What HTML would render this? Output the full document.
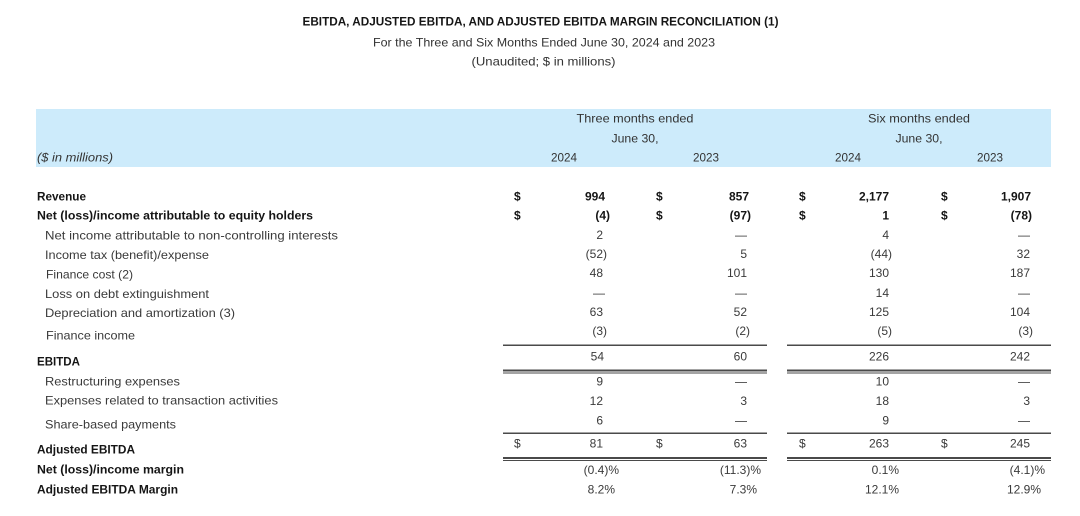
<!DOCTYPE html>
<html><head><meta charset="utf-8">
<style>
html,body{margin:0;padding:0;background:#fff;}
svg{display:block;}
text{font-family:"Liberation Sans",sans-serif;font-size:12px;fill:#2a2a2a;}
.b{font-weight:bold;fill:#151515;}
.n{fill:#3a3a3a;}
.h{fill:#333;}
</style></head><body>
<svg width="1080" height="516" viewBox="0 0 1080 516" xmlns="http://www.w3.org/2000/svg">
<rect x="0" y="0" width="1080" height="516" fill="#fff"/>
<!-- titles -->
<text class="b" x="540.5" y="25.5" text-anchor="middle" textLength="476" lengthAdjust="spacingAndGlyphs">EBITDA, ADJUSTED EBITDA, AND ADJUSTED EBITDA MARGIN RECONCILIATION (1)</text>
<text class="h" x="544" y="46.5" text-anchor="middle" textLength="342" lengthAdjust="spacingAndGlyphs">For the Three and Six Months Ended June 30, 2024 and 2023</text>
<text class="h" x="543.5" y="65.5" text-anchor="middle" textLength="144" lengthAdjust="spacingAndGlyphs">(Unaudited; $ in millions)</text>

<!-- header band -->
<rect x="36" y="109" width="1015" height="58" fill="#cdebfb"/>
<text class="h" x="635" y="122.5" text-anchor="middle" textLength="117" lengthAdjust="spacingAndGlyphs">Three months ended</text>
<text class="h" x="635" y="142.5" text-anchor="middle" textLength="47" lengthAdjust="spacingAndGlyphs">June 30,</text>
<text class="h" x="564" y="161.5" text-anchor="middle" textLength="26" lengthAdjust="spacingAndGlyphs">2024</text>
<text class="h" x="706" y="161.5" text-anchor="middle" textLength="26" lengthAdjust="spacingAndGlyphs">2023</text>
<text class="h" x="919" y="122.5" text-anchor="middle" textLength="102" lengthAdjust="spacingAndGlyphs">Six months ended</text>
<text class="h" x="919" y="142.5" text-anchor="middle" textLength="47" lengthAdjust="spacingAndGlyphs">June 30,</text>
<text class="h" x="848" y="161.5" text-anchor="middle" textLength="26" lengthAdjust="spacingAndGlyphs">2024</text>
<text class="h" x="990" y="161.5" text-anchor="middle" textLength="26" lengthAdjust="spacingAndGlyphs">2023</text>
<text class="h" x="37" y="161.5" font-style="italic" textLength="76" lengthAdjust="spacingAndGlyphs">($ in millions)</text>

<!-- labels -->
<text class="b" x="37" y="200.5" textLength="49" lengthAdjust="spacingAndGlyphs">Revenue</text>
<text class="b" x="37" y="219.5" textLength="276" lengthAdjust="spacingAndGlyphs">Net (loss)/income attributable to equity holders</text>
<text class="n" x="45" y="239.5" textLength="293" lengthAdjust="spacingAndGlyphs">Net income attributable to non-controlling interests</text>
<text class="n" x="45" y="259" textLength="164" lengthAdjust="spacingAndGlyphs">Income tax (benefit)/expense</text>
<text class="n" x="46" y="278.5" textLength="87" lengthAdjust="spacingAndGlyphs">Finance cost (2)</text>
<text class="n" x="45" y="298" textLength="164" lengthAdjust="spacingAndGlyphs">Loss on debt extinguishment</text>
<text class="n" x="45" y="317" textLength="190" lengthAdjust="spacingAndGlyphs">Depreciation and amortization (3)</text>
<text class="n" x="46" y="339.5" textLength="89" lengthAdjust="spacingAndGlyphs">Finance income</text>
<text class="b" x="37" y="365.5" textLength="43" lengthAdjust="spacingAndGlyphs">EBITDA</text>
<text class="n" x="45" y="385.5" textLength="135" lengthAdjust="spacingAndGlyphs">Restructuring expenses</text>
<text class="n" x="45" y="404.5" textLength="233" lengthAdjust="spacingAndGlyphs">Expenses related to transaction activities</text>
<text class="n" x="45" y="428.5" textLength="131" lengthAdjust="spacingAndGlyphs">Share-based payments</text>
<text class="b" x="37" y="453.5" textLength="98" lengthAdjust="spacingAndGlyphs">Adjusted EBITDA</text>
<text class="b" x="37" y="473.5" textLength="147" lengthAdjust="spacingAndGlyphs">Net (loss)/income margin</text>
<text class="b" x="37" y="493.5" textLength="141" lengthAdjust="spacingAndGlyphs">Adjusted EBITDA Margin</text>

<!-- dollar signs -->
<text class="b" x="514" y="200.5">$</text><text class="b" x="656" y="200.5">$</text><text class="b" x="799" y="200.5">$</text><text class="b" x="941" y="200.5">$</text>
<text class="b" x="514" y="219.5">$</text><text class="b" x="656" y="219.5">$</text><text class="b" x="799" y="219.5">$</text><text class="b" x="941" y="219.5">$</text>
<text class="n" x="514" y="447.5">$</text><text class="n" x="656" y="447.5">$</text><text class="n" x="799" y="447.5">$</text><text class="n" x="941" y="447.5">$</text>

<!-- bold values -->
<text class="b" x="605" y="200.5" text-anchor="end">994</text>
<text class="b" x="749" y="200.5" text-anchor="end">857</text>
<text class="b" x="889" y="200.5" text-anchor="end">2,177</text>
<text class="b" x="1031" y="200.5" text-anchor="end">1,907</text>
<text class="b" x="610" y="219.5" text-anchor="end">(4)</text>
<text class="b" x="751" y="219.5" text-anchor="end">(97)</text>
<text class="b" x="889" y="219.5" text-anchor="end">1</text>
<text class="b" x="1032" y="219.5" text-anchor="end">(78)</text>

<!-- regular values -->
<g class="n" text-anchor="end">
<text class="n" x="603" y="239">2</text><text class="n" x="747" y="239">—</text><text class="n" x="889" y="239">4</text><text class="n" x="1030" y="239">—</text>
<text class="n" x="607" y="258">(52)</text><text class="n" x="747" y="258">5</text><text class="n" x="892" y="258">(44)</text><text class="n" x="1030" y="258">32</text>
<text class="n" x="603" y="277">48</text><text class="n" x="747" y="277">101</text><text class="n" x="889" y="277">130</text><text class="n" x="1030" y="277">187</text>
<text class="n" x="605" y="297">—</text><text class="n" x="747" y="297">—</text><text class="n" x="889" y="297">14</text><text class="n" x="1030" y="297">—</text>
<text class="n" x="603" y="316">63</text><text class="n" x="747" y="316">52</text><text class="n" x="889" y="316">125</text><text class="n" x="1030" y="316">104</text>
<text class="n" x="607" y="335">(3)</text><text class="n" x="750" y="335">(2)</text><text class="n" x="892" y="335">(5)</text><text class="n" x="1033" y="335">(3)</text>
<text class="n" x="604" y="360.5">54</text><text class="n" x="747" y="360.5">60</text><text class="n" x="889" y="360.5">226</text><text class="n" x="1030" y="360.5">242</text>
<text class="n" x="603" y="385.5">9</text><text class="n" x="747" y="385.5">—</text><text class="n" x="889" y="385.5">10</text><text class="n" x="1030" y="385.5">—</text>
<text class="n" x="603" y="405">12</text><text class="n" x="747" y="405">3</text><text class="n" x="889" y="405">18</text><text class="n" x="1030" y="405">3</text>
<text class="n" x="603" y="424.5">6</text><text class="n" x="747" y="424.5">—</text><text class="n" x="889" y="424.5">9</text><text class="n" x="1030" y="424.5">—</text>
<text class="n" x="603" y="447.5">81</text><text class="n" x="747" y="447.5">63</text><text class="n" x="889" y="447.5">263</text><text class="n" x="1030" y="447.5">245</text>
<text class="n" x="619" y="474">(0.4)%</text><text class="n" x="761" y="474">(11.3)%</text><text class="n" x="899" y="474">0.1%</text><text class="n" x="1045" y="474">(4.1)%</text>
<text class="n" x="615" y="493.5">8.2%</text><text class="n" x="757" y="493.5">7.3%</text><text class="n" x="899" y="493.5">12.1%</text><text class="n" x="1041" y="493.5">12.9%</text>
</g>

<!-- rules -->
<g fill="#4a4a4a">
<rect x="503" y="344.5" width="264" height="1.5"/>
<rect x="787" y="344.5" width="264" height="1.5"/>
<rect x="503" y="369.5" width="264" height="2"/>
<rect x="503" y="372.5" width="264" height="1"/>
<rect x="787" y="369.5" width="264" height="2"/>
<rect x="787" y="372.5" width="264" height="1"/>
<rect x="503" y="432.5" width="264" height="1.5"/>
<rect x="787" y="432.5" width="264" height="1.5"/>
<rect x="503" y="457" width="264" height="2"/>
<rect x="503" y="460" width="264" height="1"/>
<rect x="787" y="457" width="264" height="2"/>
<rect x="787" y="460" width="264" height="1"/>
</g>
</svg>
</body></html>
